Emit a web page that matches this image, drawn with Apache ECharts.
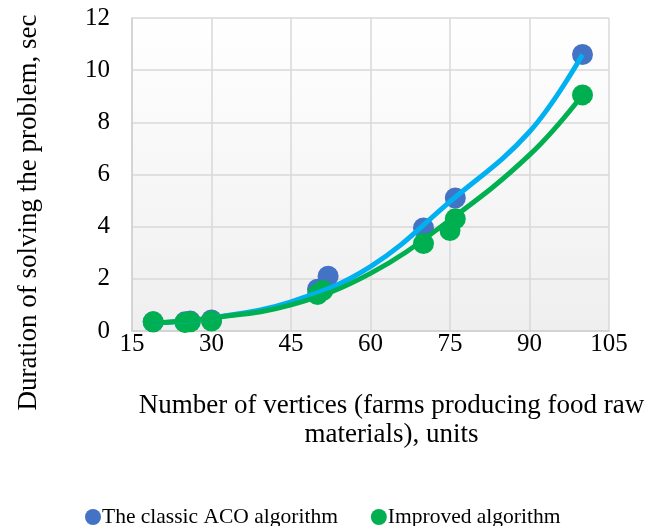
<!DOCTYPE html>
<html>
<head>
<meta charset="utf-8">
<script src="https://cdn.jsdelivr.net/npm/echarts@6/dist/echarts.min.js"></script>
<style>
html,body{margin:0;padding:0;background:#fff;}
#c{width:654px;height:526px;}
</style>
</head>
<body>
<div id="c"></div>
<script>
// Measured points (x = number of vertices, y = seconds)
const classicX = [19, 25, 26, 30, 50, 52, 70, 76, 100];
const classicY = [0.35, 0.35, 0.38, 0.42, 1.6, 2.1, 3.95, 5.1, 10.6];
const improvedX = [19, 25, 26, 30, 50, 51, 70, 75, 76, 100];
const improvedY = [0.35, 0.33, 0.35, 0.38, 1.4, 1.55, 3.35, 3.85, 4.3, 9.05];
// Trend curves at sample x positions
const trendX = [19, 30, 45, 60, 75, 90, 100];
const classicTrendY = [0.3, 0.5, 1.12, 2.47, 4.96, 7.64, 10.6];
const improvedTrendY = [0.3, 0.5, 1.0, 2.21, 4.26, 6.75, 9.05];
const xTicks = [15, 30, 45, 60, 75, 90, 105];
const yTicks = [0, 2, 4, 6, 8, 10, 12];
const seriesNames = ['The classic ACO algorithm', 'Improved algorithm'];

const zip = (xs, ys) => xs.map((x, i) => [x, ys[i]]);
const font = '"Liberation Serif", "Times New Roman", serif';

const chart = echarts.init(document.getElementById('c'));
chart.setOption({
  animation: false,
  backgroundColor: '#ffffff',
  textStyle: { fontFamily: font, color: '#000' },
  grid: {
    left: 132, right: 45, top: 18, bottom: 195,
    show: true,
    borderWidth: 0,
    backgroundColor: new echarts.graphic.LinearGradient(0, 0, 0, 1, [
      { offset: 0, color: '#ffffff' },
      { offset: 1, color: '#efefef' }
    ])
  },
  xAxis: {
    type: 'value',
    min: xTicks[0], max: xTicks[xTicks.length - 1], interval: 15,
    name: 'Number of vertices (farms producing food raw\nmaterials), units',
    nameLocation: 'middle',
    nameGap: 60,
    nameTextStyle: { fontFamily: font, fontSize: 27, color: '#000', lineHeight: 29, padding: [0, 0, 0, 42] },
    axisLine: { show: true, lineStyle: { color: '#d0d0d0', width: 1.5 } },
    axisTick: { show: false },
    axisLabel: { fontFamily: font, fontSize: 25, color: '#000', margin: 1 },
    splitLine: { show: true, lineStyle: { color: '#d9d9d9', width: 1.5 } }
  },
  yAxis: {
    type: 'value',
    min: yTicks[0], max: yTicks[yTicks.length - 1], interval: 2,
    name: 'Duration of solving the problem, sec',
    nameLocation: 'middle',
    nameGap: 90,
    nameTextStyle: { fontFamily: font, fontSize: 27, color: '#000', padding: [0, 76, 0, 0] },
    axisLine: { show: true, lineStyle: { color: '#d0d0d0', width: 1.5 } },
    axisTick: { show: false },
    axisLabel: { fontFamily: font, fontSize: 25, color: '#000', margin: 22 },
    splitLine: { show: true, lineStyle: { color: '#d9d9d9', width: 1.5 } }
  },
  legend: {
    data: seriesNames,
    left: 80, top: 501,
    icon: 'circle',
    itemWidth: 16, itemHeight: 16,
    itemGap: 33,
    textStyle: { fontFamily: font, fontSize: 21.5, color: '#000', padding: [0, 0, 0, -4] }
  },
  series: [
    {
      name: seriesNames[0], type: 'scatter',
      data: zip(classicX, classicY),
      symbol: 'circle', symbolSize: 21,
      itemStyle: { color: '#4472C4', opacity: 1 }
    },
    {
      name: seriesNames[1], type: 'scatter',
      data: zip(improvedX, improvedY),
      symbol: 'circle', symbolSize: 21,
      itemStyle: { color: '#00B050', opacity: 1 }
    },
    {
      name: 'classicTrend', type: 'line',
      data: zip(trendX, classicTrendY),
      smooth: 0.4, showSymbol: false, symbol: 'none',
      lineStyle: { color: '#00B0F0', width: 5 },
      itemStyle: { color: '#00B0F0' }
    },
    {
      name: 'improvedTrend', type: 'line',
      data: zip(trendX, improvedTrendY),
      smooth: 0.4, showSymbol: false, symbol: 'none',
      lineStyle: { color: '#00B050', width: 5 },
      itemStyle: { color: '#00B050' }
    }
  ]
});
</script>
</body>
</html>
